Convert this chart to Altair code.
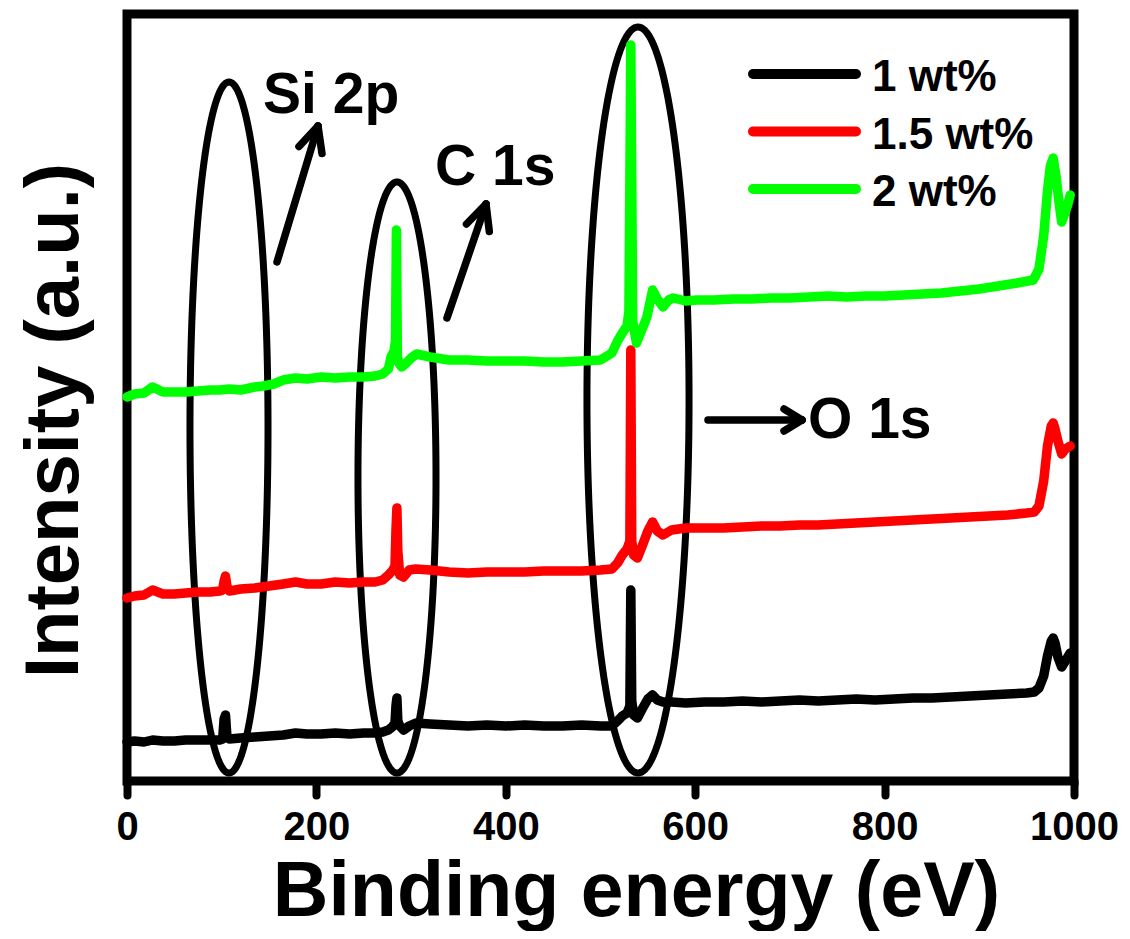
import altair as alt
import pandas as pd
import numpy as np

FONT = "Liberation Sans"

# ---------------- data (binding energy in eV, intensity in a.u.) ----------------
energy_1 = [0, 8, 18, 27, 38, 50, 62, 75, 88, 98, 101, 102.5, 104, 105.5, 108, 120, 135, 150, 165, 178,
            190, 205, 220, 235, 250, 262, 270, 276, 280, 283, 284, 285, 286, 288, 292, 298, 305, 320, 340,
            360, 380, 400, 420, 440, 460, 480, 500, 512, 518, 523, 528, 531, 532, 533, 535, 539, 544, 550,
            555, 560, 566, 575, 590, 610, 630, 650, 670, 690, 710, 730, 750, 770, 790, 810, 830, 850, 870,
            890, 910, 930, 950, 958, 963, 968, 972, 976, 978, 980, 983, 987, 991, 996]
intensity_1 = [39, 40, 39, 41, 40, 40, 41, 41, 41, 41, 42, 62, 66, 45, 42, 43, 44, 45, 46, 48,
               47, 47, 48, 47, 48, 48, 49, 51, 54, 58, 75, 83, 60, 55, 51, 55, 58, 57, 56,
               55, 56, 55, 56, 55, 55, 56, 55, 55, 60, 65, 68, 75, 191, 80, 66, 63, 72, 82,
               86, 81, 79, 79, 78, 79, 79, 80, 79, 80, 81, 80, 81, 82, 81, 82, 83, 83, 84,
               85, 86, 87, 88, 89, 93, 105, 125, 140, 143, 138, 124, 114, 120, 128]

energy_15 = energy_1
intensity_15 = [183, 185, 186, 191, 187, 187, 188, 189, 189, 190, 191, 200, 205, 195, 190, 192, 193, 195, 197, 199,
                197, 197, 199, 198, 199, 199, 201, 206, 210, 215, 250, 273, 230, 206, 204, 211, 212, 211, 209,
                208, 209, 209, 209, 210, 210, 210, 211, 212, 218, 226, 232, 240, 431, 240, 226, 223, 235, 250,
                259, 250, 246, 251, 253, 253, 253, 254, 255, 255, 256, 256, 257, 258, 259, 260, 261, 262, 263,
                264, 265, 266, 268, 269, 275, 300, 335, 355, 358, 352, 340, 327, 332, 335]

energy_2 = [0, 8, 18, 27, 38, 50, 62, 75, 88, 98, 108, 120, 135, 144, 155, 165, 178, 190, 205, 220,
            235, 250, 262, 270, 276, 279, 282, 283.5, 284.5, 285.5, 287, 290, 295, 300, 306, 320, 340, 360,
            380, 400, 420, 440, 460, 480, 500, 512, 518, 523, 528, 530, 531, 532, 533, 534, 538, 544, 549,
            555, 560, 566, 572, 577, 590, 602, 620, 640, 660, 680, 700, 720, 740, 760, 780, 800, 820, 840,
            860, 880, 900, 920, 940, 957, 963, 968, 972, 975, 978, 981, 984, 987, 990, 993, 996]
intensity_2 = [384, 387, 388, 394, 389, 389, 389, 390, 391, 391, 392, 391, 394, 395, 397, 401, 403, 402, 404, 403,
               404, 404, 405, 407, 412, 425, 430, 440, 551, 425, 418, 414, 418, 423, 427, 424, 421, 421,
               420, 420, 420, 419, 419, 420, 421, 428, 440, 448, 455, 470, 600, 736, 600, 460, 438, 452, 464,
               491, 482, 474, 481, 483, 480, 481, 481, 482, 482, 483, 483, 484, 485, 484, 485, 485, 486, 487,
               488, 490, 492, 495, 498, 501, 512, 545, 590, 615, 623, 605, 580, 559, 567, 575, 586]

series_names = ["1 wt%", "1.5 wt%", "2 wt%"]
series_colors = ["#000000", "#ff0000", "#00ff00"]

x_ticks = [0, 200, 400, 600, 800, 1000]

# annotation geometry (data coordinates)
ellipse_names = ["Si 2p", "C 1s", "O 1s"]
ellipse_cx = [107.7, 285.1, 539.6]
ellipse_rx = [41.2, 41.2, 53.9]
ellipse_cy = [353.5, 303.5, 381.0]
ellipse_ry = [345.5, 295.5, 373.0]

label_text = ["Si 2p", "C 1s", "O 1s"]
label_x = [143.6, 325.2, 719.1]
label_y = [668, 596, 343]

# arrow segments: shaft + two head strokes
arrow_x0 = [158.4, 201.7, 201.7, 337.9, 379.1, 379.1, 613.5, 712.8, 712.8]
arrow_y0 = [519, 655, 655, 463, 577, 577, 361, 361, 361]
arrow_x1 = [201.7, 181.6, 205.9, 379.1, 358.5, 382.6, 712.8, 693.8, 693.8]
arrow_y1 = [655, 634.5, 627.5, 577, 557, 549.5, 361, 372, 350]

# ---------------- chart ----------------
x_scale = alt.Scale(domain=[0, 1000], nice=False, zero=False)
y_scale = alt.Scale(domain=[0, 767], nice=False, zero=False)

x_axis = alt.Axis(values=x_ticks, format="d", title="Binding energy (eV)", grid=False, domain=False,
                  labelFont=FONT, labelFontSize=40, labelFontWeight="bold", labelColor="black",
                  labelPadding=12, labelFlush=False, labelOverlap=False,
                  tickSize=14, tickWidth=8, tickColor="black", tickCap="round",
                  titleFont=FONT, titleFontSize=77, titleFontWeight="bold", titleColor="black",
                  titleX=509, titleY=134, titleBaseline="alphabetic", titleAlign="center")
y_axis = alt.Axis(title="Intensity (a.u.)", grid=False, domain=False, labels=False, ticks=False,
                  titleFont=FONT, titleFontSize=76, titleFontWeight="bold", titleColor="black",
                  titleX=-50, titleY=406, titleBaseline="alphabetic", titleAlign="center", titleAngle=270)


def X(field):
    return alt.X(field, type="quantitative", scale=x_scale, axis=x_axis)


def Y(field):
    return alt.Y(field, type="quantitative", scale=y_scale, axis=y_axis)


layers = []

# ellipses
rows = []
theta = np.linspace(0, 2 * np.pi, 241)
for n, cx, rx, cy, ry in zip(ellipse_names, ellipse_cx, ellipse_rx, ellipse_cy, ellipse_ry):
    for k, t in enumerate(theta):
        rows.append({"name": n, "k": k, "e": cx + rx * np.cos(t), "i": cy + ry * np.sin(t)})
ell_df = pd.DataFrame(rows)
layers.append(
    alt.Chart(ell_df).mark_line(color="black", strokeWidth=7, strokeJoin="round")
    .encode(x=X("e"), y=Y("i"), detail="name:N", order="k:Q")
)

# arrows
arr_df = pd.DataFrame({"x0": arrow_x0, "y0": arrow_y0, "x1": arrow_x1, "y1": arrow_y1})
layers.append(
    alt.Chart(arr_df).mark_rule(color="black", strokeWidth=7.5, strokeCap="round")
    .encode(x=X("x0"), y=Y("y0"), x2="x1", y2="y1")
)

# annotation labels
lab_df = pd.DataFrame({"t": label_text, "x": label_x, "y": label_y})
layers.append(
    alt.Chart(lab_df).mark_text(align="left", baseline="alphabetic", font=FONT, fontSize=57,
                                fontWeight="bold", color="black")
    .encode(x=X("x"), y=Y("y"), text="t:N")
)

# spectra
for e, inten, c in [(energy_1, intensity_1, series_colors[0]),
                    (energy_15, intensity_15, series_colors[1]),
                    (energy_2, intensity_2, series_colors[2])]:
    df = pd.DataFrame({"e": e, "i": inten, "k": range(len(e))})
    layers.append(
        alt.Chart(df).mark_line(color=c, strokeWidth=9.5, strokeCap="round", strokeJoin="round")
        .encode(x=X("e"), y=Y("i"), order="k:Q")
    )

# legend (manual)
for idx, (name, c) in enumerate(zip(series_names, series_colors)):
    row_y = 60 + 57.5 * idx
    one = pd.DataFrame({"s": [name]})
    layers.append(
        alt.Chart(one).mark_rule(color=c, strokeWidth=10, strokeCap="round")
        .encode(x=alt.value(626), x2=alt.value(729), y=alt.value(row_y))
    )
    layers.append(
        alt.Chart(one).mark_text(align="left", baseline="alphabetic", font=FONT, fontSize=44,
                                 fontWeight="bold", color="black")
        .encode(x=alt.value(745), y=alt.value(row_y + 17), text="s:N")
    )

chart = (
    alt.layer(*layers)
    .properties(width=947, height=767, autosize=alt.AutoSizeParams(type="none"),
                padding={"left": 119, "top": 6, "right": 46, "bottom": 150})
    .configure_view(stroke="black", strokeWidth=9)
)

chart.save("out.html", embed_options={"renderer": "svg", "actions": False})
